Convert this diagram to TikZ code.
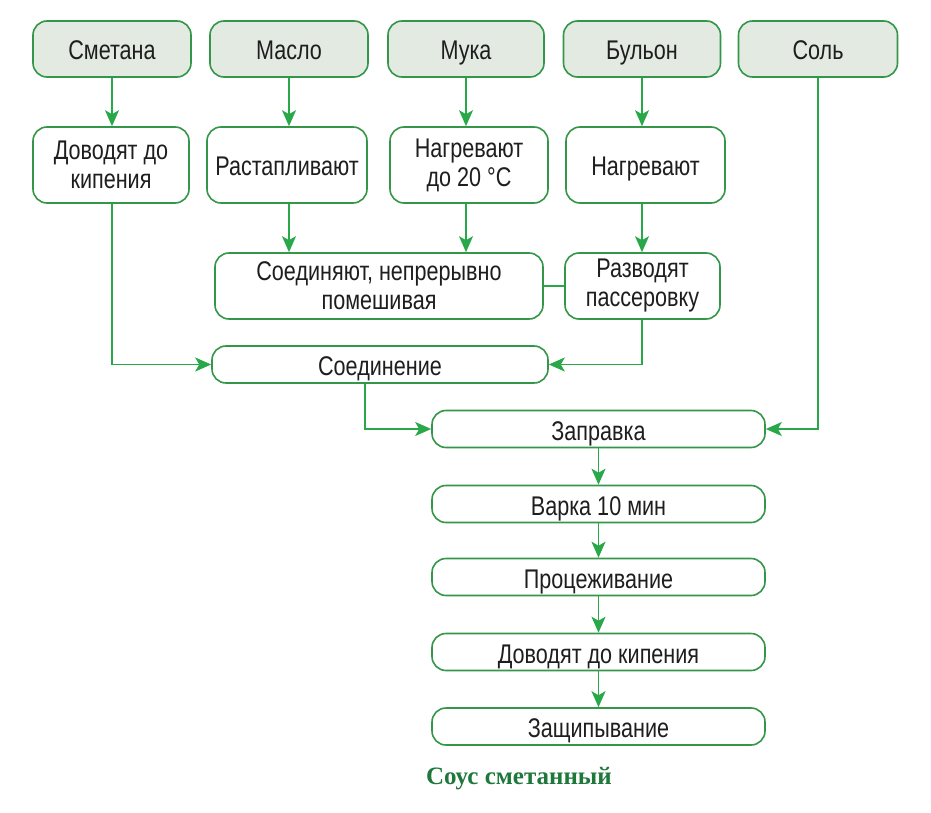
\documentclass[tikz,border=0pt]{standalone}
\usepackage{fontspec}
\setmainfont[FakeStretch=0.8]{Liberation Sans}
\newfontfamily\capfont{Liberation Serif}
\usetikzlibrary{arrows.meta}
\definecolor{boxline}{RGB}{52,150,72}
\definecolor{arrowc}{RGB}{40,168,72}
\definecolor{topfill}{RGB}{226,234,226}
\definecolor{txt}{RGB}{30,30,30}
\definecolor{capc}{RGB}{30,120,60}
\tikzset{
  box/.style={draw=boxline, line width=1.6pt, rounded corners=14pt, align=center,
    text=txt, inner sep=2pt, font=\fontsize{27}{29}\selectfont},
  oneline/.style={text height=25pt, text depth=3pt},
  ingr/.style={box, oneline, fill=topfill, minimum height=56pt},
  stepbox/.style={box, fill=white, minimum height=76pt},
  widebox/.style={box, oneline, fill=white, minimum height=37pt, minimum width=333pt},
  arr/.style={draw=arrowc, line width=1.7pt, -{Stealth[length=16pt,width=14pt,inset=4pt]}},
  lin/.style={draw=arrowc, line width=1.7pt},
}
\begin{document}
\begin{tikzpicture}[x=1pt,y=-1pt]
\useasboundingbox (0,0) rectangle (931,813);
% top row
\node[ingr, minimum width=158pt] (smetana) at (112,49) {Сметана};
\node[ingr, minimum width=158pt] (maslo) at (289,49) {Масло};
\node[ingr, minimum width=156pt] (muka) at (466,49) {Мука};
\node[ingr, minimum width=157pt] (bulon) at (642,49) {Бульон};
\node[ingr, minimum width=159pt] (sol) at (818,49) {Соль};
% second row
\node[stepbox, minimum width=156pt] (dov1) at (111,165) {Доводят до\\кипения};
\node[stepbox, oneline, minimum width=160pt] (rast) at (287,165) {Растапливают};
\node[stepbox, minimum width=158pt] (nagr20) at (469,165) {Нагревают\\до 20 °C};
\node[stepbox, oneline, minimum width=159pt] (nagr) at (645.5,165) {Нагревают};
% third row
\node[box, fill=white, minimum height=66pt, minimum width=328pt] (soed) at (379,286) {Соединяют, непрерывно\\помешивая};
\node[box, fill=white, minimum height=66pt, minimum width=155pt] (razv) at (642.5,286) {Разводят\\пассеровку};
% lower chain
\node[widebox, minimum width=336pt] (soedinenie) at (380,364.5) {Соединение};
\node[widebox] (zapr) at (598.5,429) {Заправка};
\node[widebox] (varka) at (598.5,504) {Варка 10 мин};
\node[widebox] (proc) at (598.5,577) {Процеживание};
\node[widebox] (dov2) at (598.5,652) {Доводят до кипения};
\node[widebox] (zasch) at (598.5,726.5) {Защипывание};
\node[text=capc, font=\capfont\bfseries\fontsize{25}{28}\selectfont] (caption) at (519,779) {Соус сметанный};
% arrows
\draw[arr] (smetana.south) -- (smetana.south |- dov1.north);
\draw[arr] (maslo.south) -- (maslo.south |- rast.north);
\draw[arr] (muka.south) -- (muka.south |- nagr20.north);
\draw[arr] (bulon.south) -- (bulon.south |- nagr.north);
\draw[arr] (maslo.south |- rast.south) -- (maslo.south |- soed.north);
\draw[arr] (muka.south |- nagr20.south) -- (muka.south |- soed.north);
\draw[arr] (bulon.south |- nagr.south) -- (bulon.south |- razv.north);
\draw[lin] (soed.east) -- (razv.west);
\draw[arr] (smetana.south |- dov1.south) |- (soedinenie.west);
\draw[arr] (bulon.south |- razv.south) |- (soedinenie.east);
\draw[arr] ([xshift=-15pt]soedinenie.south) |- (zapr.west);
\draw[arr] (sol.south) |- (zapr.east);
\draw[arr] (zapr) -- (varka);
\draw[arr] (varka) -- (proc);
\draw[arr] (proc) -- (dov2);
\draw[arr] (dov2) -- (zasch);
\end{tikzpicture}
\end{document}
